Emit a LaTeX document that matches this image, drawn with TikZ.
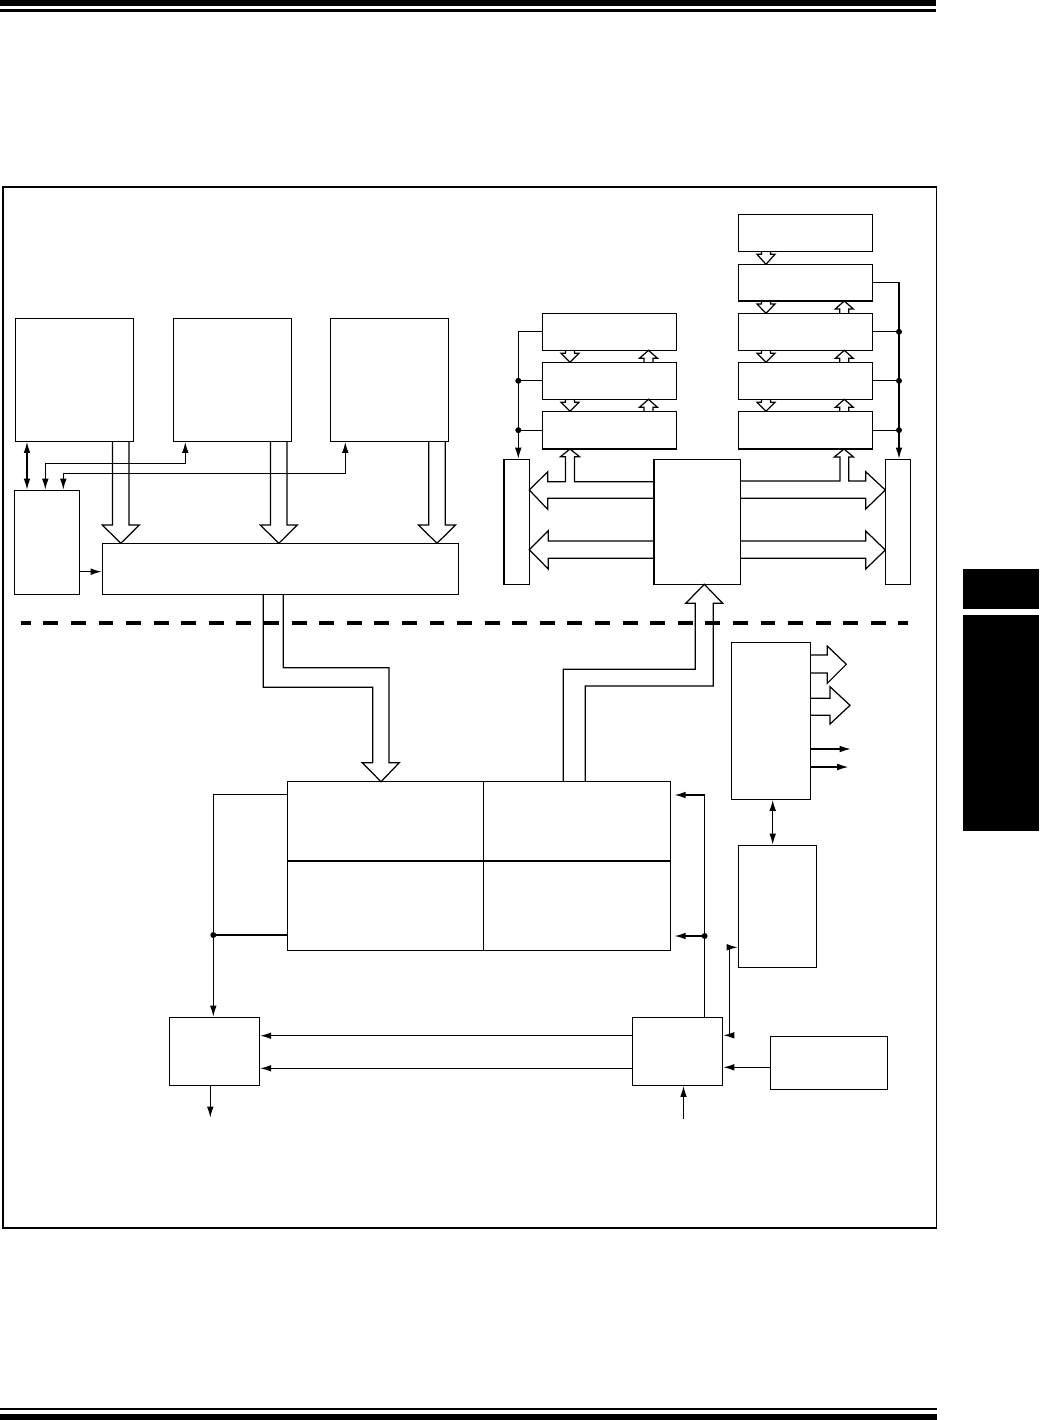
\documentclass[tikz,border=0pt]{standalone}
\usetikzlibrary{arrows.meta,fit,calc}
\tikzset{
  blk/.style={draw, line width=0.7pt, inner sep=0pt},
  arr/.style={line width=0.7pt, -{Latex[length=6.3pt,width=3.8pt]}},
  darr/.style={line width=0.7pt, {Latex[length=6.3pt,width=3.8pt]}-{Latex[length=6.3pt,width=3.8pt]}},
  wire/.style={line width=0.7pt},
  dot/.style={circle, fill, inner sep=0pt, minimum size=3.4pt},
  fat/.style={draw, line width=0.7pt, line join=miter}
}
\newcommand\blk[5]{\node[blk, fit={(#2,#3) (#4,#5)}] (#1) {};}
\newcommand\smdn[3]{\draw[fat] (#1-4.5,#2) -- (#1-4.5,#2+3) -- (#1-9,#2+3) -- (#1,#3) -- (#1+9,#2+3) -- (#1+4.5,#2+3) -- (#1+4.5,#2);}
\newcommand\smup[3]{\draw[fat] (#1-4.5,#3) -- (#1-4.5,#2+8) -- (#1-9,#2+8) -- (#1,#2) -- (#1+9,#2+8) -- (#1+4.5,#2+8) -- (#1+4.5,#3);}
\newcommand\fatdn[2]{\draw[fat] (#1-8.25,#2) -- (#1-8.25,525) -- (#1-18.5,525) -- (#1,543.3) -- (#1+18.5,525) -- (#1+8.25,525) -- (#1+8.25,#2);}
\begin{document}
\begin{tikzpicture}[x=0.02cm,y=-0.02cm]
\useasboundingbox (0,0) rectangle (1039,1420);
% page rules and tabs
\fill (0,0) rectangle (936,6);
\fill (0,9.3) rectangle (936,12);
\fill (0,1408) rectangle (937,1410.2);
\fill (0,1413.7) rectangle (937,1420);
\fill (963,569) rectangle (1039,609);
\fill (963,615) rectangle (1039,831);
% frame
\draw[line width=0.7pt] (3,187) rectangle (936.5,1228);

% top-left blocks
\blk{A}{15.3}{318.3}{133.3}{441.3}
\blk{B}{173.3}{318.3}{291.3}{441.3}
\blk{C}{330.3}{318.3}{448.3}{441.3}
\blk{D}{14.3}{490.3}{79.3}{594.3}
\blk{E}{102.3}{543.3}{458.3}{594.3}
% stacks
\blk{R1}{738.3}{214.3}{872.3}{251.3}
\blk{R2}{738.3}{264.3}{872.3}{301}
\blk{R3}{738.3}{313.3}{872.3}{350.3}
\blk{R4}{738.3}{362.3}{872.3}{399.3}
\blk{R5}{738.3}{411.3}{872.3}{449}
\blk{L1}{542.3}{313.3}{676.3}{350.3}
\blk{L2}{542.3}{362.3}{676.3}{399.3}
\blk{L3}{542.3}{411.3}{676.3}{449}
\blk{LB}{504}{459.3}{529.3}{584.3}
\blk{CB}{654}{459.3}{740.3}{584.3}
\blk{RB}{885.3}{459.3}{910.3}{584.3}
% lower blocks
\blk{M}{287.3}{781.5}{670.5}{950.3}
\draw[wire] (M.west |- 0,861) -- (M.east |- 0,861);
\draw[wire] (M.north -| 483.3,0) -- (M.south -| 483.3,0);
\blk{P}{731.3}{642.3}{810.3}{799.3}
\blk{Q}{738.3}{845.3}{816.7}{967.3}
\blk{S}{169.2}{1017.3}{259.5}{1085.3}
\blk{T}{632.4}{1017.3}{722.7}{1085.3}
\blk{K}{770.3}{1036.3}{887.3}{1089.3}

% top-left connectors
\draw[darr] (A.south -| 27,0) -- (D.north -| 27,0);
\draw[darr] (D.north -| 45.3,0) |- (185.3,463.3) -- (B.south -| 185.3,0);
\draw[darr] (D.north -| 63.3,0) |- (345.3,473.3) -- (C.south -| 345.3,0);
\draw[arr] (D.east |- 0,571.7) -- (E.west |- 0,571.7);
\fatdn{120.8}{441.3}
\fatdn{278.8}{441.3}
\fatdn{437}{441.3}

% stacks small arrows
\smdn{766}{251.3}{264.3}
\smdn{766}{301}{313.3} \smup{844.3}{301}{313.3}
\smdn{766}{350.3}{362.3} \smup{844.3}{350.3}{362.3}
\smdn{766}{399.3}{411.3} \smup{844.3}{399.3}{411.3}
\smdn{570}{350.3}{362.3} \smup{648.5}{350.3}{362.3}
\smdn{570}{399.3}{411.3} \smup{648.5}{399.3}{411.3}

% buses
\draw[arr] (L1.west) -| (LB.north -| 518.3,0);
\draw[wire] (L2.west) -- (L2.west -| 518.3,0) node[dot] (dl2) {};
\draw[wire] (L3.west) -- (L3.west -| 518.3,0) node[dot] (dl3) {};
\draw[arr] (R2.east) -| (RB.north -| 899,0);
\draw[wire] (R3.east) -- (R3.east -| 899,0) node[dot] (dr3) {};
\draw[wire] (R4.east) -- (R4.east -| 899,0) node[dot] (dr4) {};
\draw[wire] (R5.east) -- (R5.east -| 899,0) node[dot] (dr5) {};

% wide hollow arrows around CB
\draw[fat] (654,481.7) -- (574.5,481.7) -- (574.5,456.7) -- (579.5,456.7) -- (570,449) -- (560.5,456.7) -- (565.5,456.7) -- (565.5,481.7) -- (547.7,481.7) -- (547.7,471.7) -- (529.3,490) -- (547.7,509.3) -- (547.7,498.3) -- (654,498.3);
\draw[fat] (654,541) -- (548.3,541) -- (548.3,530.7) -- (529.3,549.7) -- (548.3,569) -- (548.3,558.3) -- (654,558.3);
\draw[fat] (740.3,481) -- (840,481) -- (840,457) -- (834.3,457) -- (844,449) -- (853.5,457) -- (848.7,457) -- (848.7,481) -- (865.7,481) -- (865.7,471.7) -- (885.3,490) -- (865.7,509) -- (865.7,498.3) -- (740.3,498.3);
\draw[fat] (740.3,541) -- (865.7,541) -- (865.7,531) -- (885.3,550) -- (865.7,569) -- (865.7,558.3) -- (740.3,558.3);

% E down to M
\draw[fat] (263.3,594.3) -- (263.3,687.3) -- (372.7,687.3) -- (372.7,762.7) -- (362.3,762.7) -- (381,781.7) -- (399.3,762.7) -- (389,762.7) -- (389,667.7) -- (283.3,667.7) -- (283.3,594.3);
% M up to CB
\draw[fat] (563.3,781.7) -- (563.3,669.3) -- (695.3,669.3) -- (695.3,603.3) -- (685.7,603.3) -- (704.3,584.3) -- (722.7,603.3) -- (713.3,603.3) -- (713.3,686) -- (585.3,686) -- (585.3,781.7);

% dashed separator
\draw[line width=2.55pt, dash pattern=on 8.5pt off 7.2pt, dash phase=2.8pt] (20.7,623) -- (908,623);

% P outputs
\draw[fat] (810.3,655) -- (827.3,655) -- (827.3,646) -- (846.3,664.3) -- (827.3,683.3) -- (827.3,673) -- (810.3,673);
\draw[fat] (810.3,698.3) -- (830,698.3) -- (830,686.7) -- (850,705.3) -- (830,724) -- (830,715.3) -- (810.3,715.3);
\coordinate (o1) at (850.7,749);
\coordinate (o2) at (848.3,767);
\draw[arr] (P.east |- o1) -- (o1);
\draw[arr] (P.east |- o2) -- (o2);
\draw[darr] (P.south -| 772.7,0) -- (Q.north -| 772.7,0);

% lower connectors
\draw[arr] (M.west |- 0,794.3) -| (S.north -| 213.3,0);
\draw[wire] (M.west |- 0,935) -- (213.3,935) node[dot] (dml) {};
\coordinate (sout) at (210.3,1117.7);
\draw[arr] (S.south -| sout) -- (sout);
\draw[arr] (T.west |- 0,1035.7) -- (S.east |- 0,1035.7);
\draw[arr] (T.west |- 0,1068.3) -- (S.east |- 0,1068.3);
\coordinate (tin) at (683.5,1119);
\draw[arr] (tin) -- (T.south -| tin);
\draw[arr, shorten >=2pt] (T.north -| 704.6,0) |- (M.east |- 0,795);
\draw[arr, shorten >=2pt] (704.6,936) node[dot] (dmr) {} -- (M.east |- 0,936);
\draw[darr] (T.east |- 0,1035.3) -| (729.3,947.3) -- (Q.west |- 0,947.3);
\draw[arr] (K.west |- 0,1067.3) -- (T.east |- 0,1067.3);
\end{tikzpicture}
\end{document}
